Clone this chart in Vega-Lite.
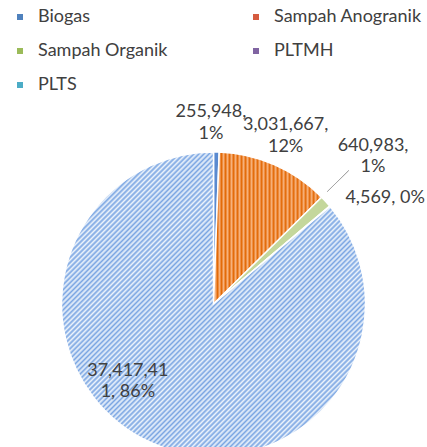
{
  "$schema": "https://vega.github.io/schema/vega-lite/v6.json",
  "autosize": "none",
  "width": 304,
  "height": 286,
  "padding": {"left": 61.5, "top": 161, "right": 61.5, "bottom": 0},
  "background": "white",
  "config": {"view": {"stroke": null}, "font": "Lato"},
  "data": {
    "values": [
      {"source": "Biogas", "value": 255948, "share": 0.6, "label": "255,948,\n1%"},
      {"source": "Sampah Anogranik", "value": 3031667, "share": 12.0, "label": "3,031,667,\n12%"},
      {"source": "Sampah Organik", "value": 640983, "share": 1.25, "label": "640,983,\n1%"},
      {"source": "PLTMH", "value": 4569, "share": 0.05, "label": "4,569, 0%"},
      {"source": "PLTS", "value": 37417411, "share": 86.1, "label": "37,417,41\n1, 86%"}
    ]
  },
  "transform": [
    {"stack": "share", "groupby": [], "as": ["t0", "t1"]},
    {"calculate": "(datum.t0 + datum.t1) / 2", "as": "mid"}
  ],
  "layer": [
    {
      "mark": {"type": "arc", "outerRadius": 152, "stroke": "white", "strokeWidth": 1.5},
      "encoding": {
        "theta": {"field": "t0", "type": "quantitative", "scale": {"domain": [0, 100]}},
        "theta2": {"field": "t1"},
        "fill": {
          "condition": [
            {"test": "datum.source === 'Biogas'", "value": "#5A8AD0"},
            {"test": "datum.source === 'Sampah Anogranik'", "value": {
              "gradient": "linear", "x1": 0, "y1": 0, "x2": 1, "y2": 0,
              "stops": [
                {"offset": 0, "color": "#e36a08"}, {"offset": 0.0185, "color": "#f7b27c"},
                {"offset": 0.037, "color": "#e36a08"}, {"offset": 0.0556, "color": "#f7b27c"},
                {"offset": 0.0741, "color": "#e36a08"}, {"offset": 0.0926, "color": "#f7b27c"},
                {"offset": 0.1111, "color": "#e36a08"}, {"offset": 0.1296, "color": "#f7b27c"},
                {"offset": 0.1481, "color": "#e36a08"}, {"offset": 0.1667, "color": "#f7b27c"},
                {"offset": 0.1852, "color": "#e36a08"}, {"offset": 0.2037, "color": "#f7b27c"},
                {"offset": 0.2222, "color": "#e36a08"}, {"offset": 0.2407, "color": "#f7b27c"},
                {"offset": 0.2593, "color": "#e36a08"}, {"offset": 0.2778, "color": "#f7b27c"},
                {"offset": 0.2963, "color": "#e36a08"}, {"offset": 0.3148, "color": "#f7b27c"},
                {"offset": 0.3333, "color": "#e36a08"}, {"offset": 0.3519, "color": "#f7b27c"},
                {"offset": 0.3704, "color": "#e36a08"}, {"offset": 0.3889, "color": "#f7b27c"},
                {"offset": 0.4074, "color": "#e36a08"}, {"offset": 0.4259, "color": "#f7b27c"},
                {"offset": 0.4444, "color": "#e36a08"}, {"offset": 0.463, "color": "#f7b27c"},
                {"offset": 0.4815, "color": "#e36a08"}, {"offset": 0.5, "color": "#f7b27c"},
                {"offset": 0.5185, "color": "#e36a08"}, {"offset": 0.537, "color": "#f7b27c"},
                {"offset": 0.5556, "color": "#e36a08"}, {"offset": 0.5741, "color": "#f7b27c"},
                {"offset": 0.5926, "color": "#e36a08"}, {"offset": 0.6111, "color": "#f7b27c"},
                {"offset": 0.6296, "color": "#e36a08"}, {"offset": 0.6481, "color": "#f7b27c"},
                {"offset": 0.6667, "color": "#e36a08"}, {"offset": 0.6852, "color": "#f7b27c"},
                {"offset": 0.7037, "color": "#e36a08"}, {"offset": 0.7222, "color": "#f7b27c"},
                {"offset": 0.7407, "color": "#e36a08"}, {"offset": 0.7593, "color": "#f7b27c"},
                {"offset": 0.7778, "color": "#e36a08"}, {"offset": 0.7963, "color": "#f7b27c"},
                {"offset": 0.8148, "color": "#e36a08"}, {"offset": 0.8333, "color": "#f7b27c"},
                {"offset": 0.8519, "color": "#e36a08"}, {"offset": 0.8704, "color": "#f7b27c"},
                {"offset": 0.8889, "color": "#e36a08"}, {"offset": 0.9074, "color": "#f7b27c"},
                {"offset": 0.9259, "color": "#e36a08"}, {"offset": 0.9444, "color": "#f7b27c"},
                {"offset": 0.963, "color": "#e36a08"}, {"offset": 0.9815, "color": "#f7b27c"},
                {"offset": 1, "color": "#e36a08"}
              ]
            }},
            {"test": "datum.source === 'Sampah Organik'", "value": "#C4D79B"},
            {"test": "datum.source === 'PLTMH'", "value": "#8064A2"}
          ],
          "value": {
            "gradient": "linear", "x1": 0, "y1": 0, "x2": 1, "y2": 1,
            "stops": [
              {"offset": 0, "color": "#edf4fc"}, {"offset": 0.0042, "color": "#7aa5e2"}, {"offset": 0.0083, "color": "#edf4fc"}, {"offset": 0.0125, "color": "#7aa5e2"}, {"offset": 0.0167, "color": "#edf4fc"}, {"offset": 0.0208, "color": "#7aa5e2"}, {"offset": 0.025, "color": "#edf4fc"}, {"offset": 0.0292, "color": "#7aa5e2"}, {"offset": 0.0333, "color": "#edf4fc"}, {"offset": 0.0375, "color": "#7aa5e2"}, {"offset": 0.0417, "color": "#edf4fc"}, {"offset": 0.0458, "color": "#7aa5e2"}, {"offset": 0.05, "color": "#edf4fc"}, {"offset": 0.0542, "color": "#7aa5e2"}, {"offset": 0.0583, "color": "#edf4fc"}, {"offset": 0.0625, "color": "#7aa5e2"}, {"offset": 0.0667, "color": "#edf4fc"}, {"offset": 0.0708, "color": "#7aa5e2"}, {"offset": 0.075, "color": "#edf4fc"}, {"offset": 0.0792, "color": "#7aa5e2"}, {"offset": 0.0833, "color": "#edf4fc"}, {"offset": 0.0875, "color": "#7aa5e2"}, {"offset": 0.0917, "color": "#edf4fc"}, {"offset": 0.0958, "color": "#7aa5e2"},
              {"offset": 0.1, "color": "#edf4fc"}, {"offset": 0.1042, "color": "#7aa5e2"}, {"offset": 0.1083, "color": "#edf4fc"}, {"offset": 0.1125, "color": "#7aa5e2"}, {"offset": 0.1167, "color": "#edf4fc"}, {"offset": 0.1208, "color": "#7aa5e2"}, {"offset": 0.125, "color": "#edf4fc"}, {"offset": 0.1292, "color": "#7aa5e2"}, {"offset": 0.1333, "color": "#edf4fc"}, {"offset": 0.1375, "color": "#7aa5e2"}, {"offset": 0.1417, "color": "#edf4fc"}, {"offset": 0.1458, "color": "#7aa5e2"}, {"offset": 0.15, "color": "#edf4fc"}, {"offset": 0.1542, "color": "#7aa5e2"}, {"offset": 0.1583, "color": "#edf4fc"}, {"offset": 0.1625, "color": "#7aa5e2"}, {"offset": 0.1667, "color": "#edf4fc"}, {"offset": 0.1708, "color": "#7aa5e2"}, {"offset": 0.175, "color": "#edf4fc"}, {"offset": 0.1792, "color": "#7aa5e2"}, {"offset": 0.1833, "color": "#edf4fc"}, {"offset": 0.1875, "color": "#7aa5e2"}, {"offset": 0.1917, "color": "#edf4fc"}, {"offset": 0.1958, "color": "#7aa5e2"},
              {"offset": 0.2, "color": "#edf4fc"}, {"offset": 0.2042, "color": "#7aa5e2"}, {"offset": 0.2083, "color": "#edf4fc"}, {"offset": 0.2125, "color": "#7aa5e2"}, {"offset": 0.2167, "color": "#edf4fc"}, {"offset": 0.2208, "color": "#7aa5e2"}, {"offset": 0.225, "color": "#edf4fc"}, {"offset": 0.2292, "color": "#7aa5e2"}, {"offset": 0.2333, "color": "#edf4fc"}, {"offset": 0.2375, "color": "#7aa5e2"}, {"offset": 0.2417, "color": "#edf4fc"}, {"offset": 0.2458, "color": "#7aa5e2"}, {"offset": 0.25, "color": "#edf4fc"}, {"offset": 0.2542, "color": "#7aa5e2"}, {"offset": 0.2583, "color": "#edf4fc"}, {"offset": 0.2625, "color": "#7aa5e2"}, {"offset": 0.2667, "color": "#edf4fc"}, {"offset": 0.2708, "color": "#7aa5e2"}, {"offset": 0.275, "color": "#edf4fc"}, {"offset": 0.2792, "color": "#7aa5e2"}, {"offset": 0.2833, "color": "#edf4fc"}, {"offset": 0.2875, "color": "#7aa5e2"}, {"offset": 0.2917, "color": "#edf4fc"}, {"offset": 0.2958, "color": "#7aa5e2"},
              {"offset": 0.3, "color": "#edf4fc"}, {"offset": 0.3042, "color": "#7aa5e2"}, {"offset": 0.3083, "color": "#edf4fc"}, {"offset": 0.3125, "color": "#7aa5e2"}, {"offset": 0.3167, "color": "#edf4fc"}, {"offset": 0.3208, "color": "#7aa5e2"}, {"offset": 0.325, "color": "#edf4fc"}, {"offset": 0.3292, "color": "#7aa5e2"}, {"offset": 0.3333, "color": "#edf4fc"}, {"offset": 0.3375, "color": "#7aa5e2"}, {"offset": 0.3417, "color": "#edf4fc"}, {"offset": 0.3458, "color": "#7aa5e2"}, {"offset": 0.35, "color": "#edf4fc"}, {"offset": 0.3542, "color": "#7aa5e2"}, {"offset": 0.3583, "color": "#edf4fc"}, {"offset": 0.3625, "color": "#7aa5e2"}, {"offset": 0.3667, "color": "#edf4fc"}, {"offset": 0.3708, "color": "#7aa5e2"}, {"offset": 0.375, "color": "#edf4fc"}, {"offset": 0.3792, "color": "#7aa5e2"}, {"offset": 0.3833, "color": "#edf4fc"}, {"offset": 0.3875, "color": "#7aa5e2"}, {"offset": 0.3917, "color": "#edf4fc"}, {"offset": 0.3958, "color": "#7aa5e2"},
              {"offset": 0.4, "color": "#edf4fc"}, {"offset": 0.4042, "color": "#7aa5e2"}, {"offset": 0.4083, "color": "#edf4fc"}, {"offset": 0.4125, "color": "#7aa5e2"}, {"offset": 0.4167, "color": "#edf4fc"}, {"offset": 0.4208, "color": "#7aa5e2"}, {"offset": 0.425, "color": "#edf4fc"}, {"offset": 0.4292, "color": "#7aa5e2"}, {"offset": 0.4333, "color": "#edf4fc"}, {"offset": 0.4375, "color": "#7aa5e2"}, {"offset": 0.4417, "color": "#edf4fc"}, {"offset": 0.4458, "color": "#7aa5e2"}, {"offset": 0.45, "color": "#edf4fc"}, {"offset": 0.4542, "color": "#7aa5e2"}, {"offset": 0.4583, "color": "#edf4fc"}, {"offset": 0.4625, "color": "#7aa5e2"}, {"offset": 0.4667, "color": "#edf4fc"}, {"offset": 0.4708, "color": "#7aa5e2"}, {"offset": 0.475, "color": "#edf4fc"}, {"offset": 0.4792, "color": "#7aa5e2"}, {"offset": 0.4833, "color": "#edf4fc"}, {"offset": 0.4875, "color": "#7aa5e2"}, {"offset": 0.4917, "color": "#edf4fc"}, {"offset": 0.4958, "color": "#7aa5e2"},
              {"offset": 0.5, "color": "#edf4fc"}, {"offset": 0.5042, "color": "#7aa5e2"}, {"offset": 0.5083, "color": "#edf4fc"}, {"offset": 0.5125, "color": "#7aa5e2"}, {"offset": 0.5167, "color": "#edf4fc"}, {"offset": 0.5208, "color": "#7aa5e2"}, {"offset": 0.525, "color": "#edf4fc"}, {"offset": 0.5292, "color": "#7aa5e2"}, {"offset": 0.5333, "color": "#edf4fc"}, {"offset": 0.5375, "color": "#7aa5e2"}, {"offset": 0.5417, "color": "#edf4fc"}, {"offset": 0.5458, "color": "#7aa5e2"}, {"offset": 0.55, "color": "#edf4fc"}, {"offset": 0.5542, "color": "#7aa5e2"}, {"offset": 0.5583, "color": "#edf4fc"}, {"offset": 0.5625, "color": "#7aa5e2"}, {"offset": 0.5667, "color": "#edf4fc"}, {"offset": 0.5708, "color": "#7aa5e2"}, {"offset": 0.575, "color": "#edf4fc"}, {"offset": 0.5792, "color": "#7aa5e2"}, {"offset": 0.5833, "color": "#edf4fc"}, {"offset": 0.5875, "color": "#7aa5e2"}, {"offset": 0.5917, "color": "#edf4fc"}, {"offset": 0.5958, "color": "#7aa5e2"},
              {"offset": 0.6, "color": "#edf4fc"}, {"offset": 0.6042, "color": "#7aa5e2"}, {"offset": 0.6083, "color": "#edf4fc"}, {"offset": 0.6125, "color": "#7aa5e2"}, {"offset": 0.6167, "color": "#edf4fc"}, {"offset": 0.6208, "color": "#7aa5e2"}, {"offset": 0.625, "color": "#edf4fc"}, {"offset": 0.6292, "color": "#7aa5e2"}, {"offset": 0.6333, "color": "#edf4fc"}, {"offset": 0.6375, "color": "#7aa5e2"}, {"offset": 0.6417, "color": "#edf4fc"}, {"offset": 0.6458, "color": "#7aa5e2"}, {"offset": 0.65, "color": "#edf4fc"}, {"offset": 0.6542, "color": "#7aa5e2"}, {"offset": 0.6583, "color": "#edf4fc"}, {"offset": 0.6625, "color": "#7aa5e2"}, {"offset": 0.6667, "color": "#edf4fc"}, {"offset": 0.6708, "color": "#7aa5e2"}, {"offset": 0.675, "color": "#edf4fc"}, {"offset": 0.6792, "color": "#7aa5e2"}, {"offset": 0.6833, "color": "#edf4fc"}, {"offset": 0.6875, "color": "#7aa5e2"}, {"offset": 0.6917, "color": "#edf4fc"}, {"offset": 0.6958, "color": "#7aa5e2"},
              {"offset": 0.7, "color": "#edf4fc"}, {"offset": 0.7042, "color": "#7aa5e2"}, {"offset": 0.7083, "color": "#edf4fc"}, {"offset": 0.7125, "color": "#7aa5e2"}, {"offset": 0.7167, "color": "#edf4fc"}, {"offset": 0.7208, "color": "#7aa5e2"}, {"offset": 0.725, "color": "#edf4fc"}, {"offset": 0.7292, "color": "#7aa5e2"}, {"offset": 0.7333, "color": "#edf4fc"}, {"offset": 0.7375, "color": "#7aa5e2"}, {"offset": 0.7417, "color": "#edf4fc"}, {"offset": 0.7458, "color": "#7aa5e2"}, {"offset": 0.75, "color": "#edf4fc"}, {"offset": 0.7542, "color": "#7aa5e2"}, {"offset": 0.7583, "color": "#edf4fc"}, {"offset": 0.7625, "color": "#7aa5e2"}, {"offset": 0.7667, "color": "#edf4fc"}, {"offset": 0.7708, "color": "#7aa5e2"}, {"offset": 0.775, "color": "#edf4fc"}, {"offset": 0.7792, "color": "#7aa5e2"}, {"offset": 0.7833, "color": "#edf4fc"}, {"offset": 0.7875, "color": "#7aa5e2"}, {"offset": 0.7917, "color": "#edf4fc"}, {"offset": 0.7958, "color": "#7aa5e2"},
              {"offset": 0.8, "color": "#edf4fc"}, {"offset": 0.8042, "color": "#7aa5e2"}, {"offset": 0.8083, "color": "#edf4fc"}, {"offset": 0.8125, "color": "#7aa5e2"}, {"offset": 0.8167, "color": "#edf4fc"}, {"offset": 0.8208, "color": "#7aa5e2"}, {"offset": 0.825, "color": "#edf4fc"}, {"offset": 0.8292, "color": "#7aa5e2"}, {"offset": 0.8333, "color": "#edf4fc"}, {"offset": 0.8375, "color": "#7aa5e2"}, {"offset": 0.8417, "color": "#edf4fc"}, {"offset": 0.8458, "color": "#7aa5e2"}, {"offset": 0.85, "color": "#edf4fc"}, {"offset": 0.8542, "color": "#7aa5e2"}, {"offset": 0.8583, "color": "#edf4fc"}, {"offset": 0.8625, "color": "#7aa5e2"}, {"offset": 0.8667, "color": "#edf4fc"}, {"offset": 0.8708, "color": "#7aa5e2"}, {"offset": 0.875, "color": "#edf4fc"}, {"offset": 0.8792, "color": "#7aa5e2"}, {"offset": 0.8833, "color": "#edf4fc"}, {"offset": 0.8875, "color": "#7aa5e2"}, {"offset": 0.8917, "color": "#edf4fc"}, {"offset": 0.8958, "color": "#7aa5e2"},
              {"offset": 0.9, "color": "#edf4fc"}, {"offset": 0.9042, "color": "#7aa5e2"}, {"offset": 0.9083, "color": "#edf4fc"}, {"offset": 0.9125, "color": "#7aa5e2"}, {"offset": 0.9167, "color": "#edf4fc"}, {"offset": 0.9208, "color": "#7aa5e2"}, {"offset": 0.925, "color": "#edf4fc"}, {"offset": 0.9292, "color": "#7aa5e2"}, {"offset": 0.9333, "color": "#edf4fc"}, {"offset": 0.9375, "color": "#7aa5e2"}, {"offset": 0.9417, "color": "#edf4fc"}, {"offset": 0.9458, "color": "#7aa5e2"}, {"offset": 0.95, "color": "#edf4fc"}, {"offset": 0.9542, "color": "#7aa5e2"}, {"offset": 0.9583, "color": "#edf4fc"}, {"offset": 0.9625, "color": "#7aa5e2"}, {"offset": 0.9667, "color": "#edf4fc"}, {"offset": 0.9708, "color": "#7aa5e2"}, {"offset": 0.975, "color": "#edf4fc"}, {"offset": 0.9792, "color": "#7aa5e2"}, {"offset": 0.9833, "color": "#edf4fc"}, {"offset": 0.9875, "color": "#7aa5e2"}, {"offset": 0.9917, "color": "#edf4fc"}, {"offset": 0.9958, "color": "#7aa5e2"},
              {"offset": 1, "color": "#edf4fc"}
            ]
          }
        }
      }
    },
    {
      "mark": {"type": "arc", "outerRadius": 0, "innerRadius": 0},
      "encoding": {
        "theta": {"field": "t0", "type": "quantitative", "scale": {"domain": [0, 100]}},
        "theta2": {"field": "t1"},
        "color": {
          "field": "source", "type": "nominal",
          "scale": {
            "domain": ["Biogas", "Sampah Anogranik", "Sampah Organik", "PLTMH", "PLTS"],
            "range": ["#4F81BD", "#D55B3F", "#9BBB59", "#8064A2", "#4BACC6"]
          },
          "legend": {
            "title": null,
            "orient": "none",
            "legendX": -50.5,
            "legendY": -153,
            "columns": 2,
            "direction": "horizontal",
            "symbolType": "square",
            "symbolSize": 36,
            "symbolStrokeWidth": 0,
            "labelFont": "Lato",
            "labelFontSize": 18,
            "labelColor": "#404040",
            "labelOffset": 9,
            "columnPadding": 79,
            "rowPadding": 16,
            "padding": 0
          }
        }
      }
    },
    {
      "transform": [{"filter": "datum.source === 'Sampah Organik'"}],
      "mark": {"type": "arc", "innerRadius": 160, "outerRadius": 190, "fill": null, "stroke": "#A6A6A6", "strokeWidth": 1},
      "encoding": {
        "theta": {"field": "t0", "type": "quantitative", "scale": {"domain": [0, 100]}},
        "theta2": {"field": "t0"}
      }
    },
    {
      "transform": [{"filter": "datum.source === 'Biogas'"}],
      "mark": {"type": "text", "radius": 181, "dx": -6, "dy": -11, "fontSize": 18, "color": "#404040", "lineBreak": "\n", "lineHeight": 22, "align": "center", "baseline": "middle"},
      "encoding": {
        "theta": {"field": "mid", "type": "quantitative", "scale": {"domain": [0, 100]}},
        "text": {"field": "label"}
      }
    },
    {
      "transform": [{"filter": "datum.source === 'Sampah Anogranik'"}],
      "mark": {"type": "text", "radius": 184, "dx": -2, "dy": -11, "fontSize": 18, "color": "#404040", "lineBreak": "\n", "lineHeight": 22, "align": "center", "baseline": "middle"},
      "encoding": {
        "theta": {"field": "mid", "type": "quantitative", "scale": {"domain": [0, 100]}},
        "text": {"field": "label"}
      }
    },
    {
      "transform": [{"filter": "datum.source === 'Sampah Organik'"}],
      "mark": {"type": "text", "radius": 216, "dy": -12, "fontSize": 18, "color": "#404040", "lineBreak": "\n", "lineHeight": 21, "align": "center", "baseline": "middle"},
      "encoding": {
        "theta": {"field": "mid", "type": "quantitative", "scale": {"domain": [0, 100]}},
        "text": {"field": "label"}
      }
    },
    {
      "transform": [{"filter": "datum.source === 'PLTMH'"}],
      "mark": {"type": "text", "radius": 202, "dx": 17, "dy": 23.5, "fontSize": 18, "color": "#404040", "lineBreak": "\n", "lineHeight": 22, "align": "center", "baseline": "middle"},
      "encoding": {
        "theta": {"field": "mid", "type": "quantitative", "scale": {"domain": [0, 100]}},
        "text": {"field": "label"}
      }
    },
    {
      "transform": [{"filter": "datum.source === 'PLTS'"}],
      "mark": {"type": "text", "radius": 115, "dx": -37, "dy": -37, "fontSize": 18, "color": "#404040", "lineBreak": "\n", "lineHeight": 21, "align": "center", "baseline": "middle"},
      "encoding": {
        "theta": {"field": "mid", "type": "quantitative", "scale": {"domain": [0, 100]}},
        "text": {"field": "label"}
      }
    }
  ]
}
